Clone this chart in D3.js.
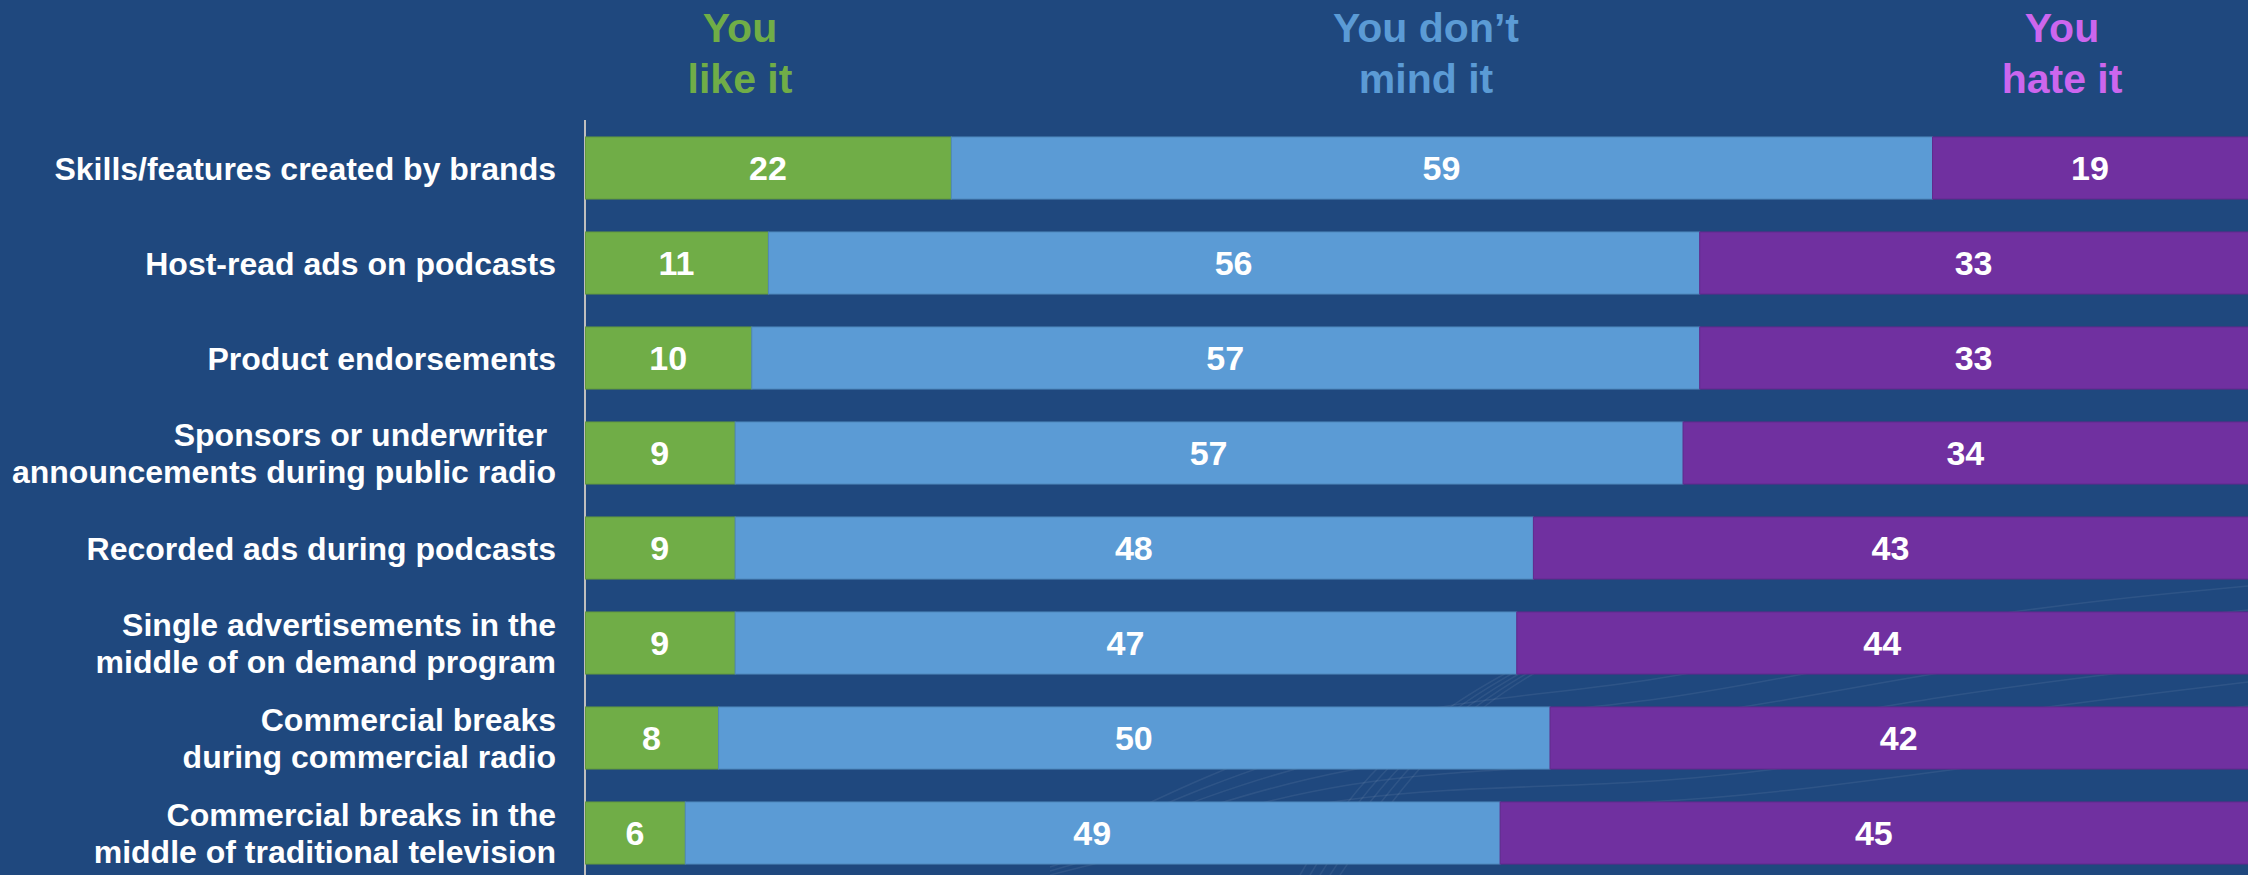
<!DOCTYPE html>
<html>
<head>
<meta charset="utf-8">
<script src="https://cdn.jsdelivr.net/npm/d3@7"></script>
<style>
  html, body { margin: 0; padding: 0; background: #1F487E; overflow: hidden; }
</style>
</head>
<body>
<div id="chart"></div>
<script>
const categories = [
  "Skills/features created by brands",
  "Host-read ads on podcasts",
  "Product endorsements",
  "Sponsors or underwriter \nannouncements during public radio",
  "Recorded ads during podcasts",
  "Single advertisements in the\nmiddle of on demand program",
  "Commercial breaks\nduring commercial radio",
  "Commercial breaks in the\nmiddle of traditional television"
]
const likeIt = [22, 11, 10, 9, 9, 9, 8, 6]
const dontMindIt = [59, 56, 57, 57, 48, 47, 50, 49]
const hateIt = [19, 33, 33, 34, 43, 44, 42, 45]
const seriesNames = ["You\nlike it", "You don’t\nmind it", "You\nhate it"]

const width = 2248
const height = 875
const marginLeft = 585
const font = "'Liberation Sans', Arimo, Arial, Helvetica, sans-serif"
const colors = ["#70AD47", "#5B9BD5", "#7030A0"]
const headColors = ["#70AD47", "#5B9BD5", "#CC66EE"]

const table = categories.map((c, i) => ({ cat: c, like: likeIt[i], mind: dontMindIt[i], hate: hateIt[i] }))
const keys = ["like", "mind", "hate"]
const stacked = d3.stack().keys(keys)(table)

const x = d3.scaleLinear().domain([0, 100]).range([marginLeft, width])
const y = d3.scaleBand()
    .domain(categories)
    .range([120.5, 880.5])
    .paddingInner(0.347)
    .paddingOuter(0.1735)

const svg = d3.select("#chart").append("svg")
    .attr("width", width)
    .attr("height", height)
    .attr("viewBox", [0, 0, width, height])
    .style("display", "block")
    .style("font-family", font)

svg.append("rect").attr("width", width).attr("height", height).attr("fill", "#1F487E")

// faint swirl decoration, bottom right
const deco = svg.append("g").attr("fill", "none").attr("stroke", "#ffffff").attr("stroke-opacity", 0.07).attr("stroke-width", 1.5)
const waveLine = d3.line().curve(d3.curveBasis)
for (let k = 0; k < 7; k++) {
  deco.append("path").attr("d", waveLine([
    [1050, 875 - k * 4], [1350, 800 - k * 16], [1650, 810 - k * 20], [1950, 770 - k * 26], [2248, 730 - k * 24]
  ]))
}
for (let k = 0; k < 5; k++) {
  deco.append("path").attr("d", waveLine([
    [1300 + k * 10, 875], [1350 + k * 12, 790], [1450 + k * 8, 700], [1570 + k * 6, 640]
  ]))
}

// axis line
svg.append("line")
    .attr("x1", marginLeft).attr("x2", marginLeft)
    .attr("y1", 120).attr("y2", height)
    .attr("stroke", "#BFBFBF").attr("stroke-width", 2)

// bars
const layer = svg.append("g").selectAll("g")
    .data(stacked)
    .join("g")
    .attr("fill", (d, i) => colors[i])
    .attr("stroke", (d, i) => d3.color(colors[i]).darker(0.35))
    .attr("stroke-width", 1)

layer.selectAll("rect")
    .data(d => d)
    .join("rect")
    .attr("x", d => x(d[0]) + 0.5)
    .attr("y", d => y(d.data.cat))
    .attr("width", d => x(d[1]) - x(d[0]))
    .attr("height", y.bandwidth())

// value labels
layer.selectAll("text")
    .data(d => d.map(v => ({ v, key: d.key })))
    .join("text")
    .attr("stroke", "none")
    .attr("fill", "#ffffff")
    .attr("font-family", font)
    .attr("font-size", 34)
    .attr("font-weight", "bold")
    .attr("text-anchor", "middle")
    .attr("x", d => (x(d.v[0]) + x(d.v[1])) / 2)
    .attr("y", d => y(d.v.data.cat) + y.bandwidth() / 2 + 12)
    .text(d => d.v.data[d.key])

// category labels
svg.append("g").selectAll("text")
    .data(categories)
    .join("text")
    .attr("fill", "#ffffff")
    .attr("font-family", font)
    .attr("font-size", 32)
    .attr("font-weight", "bold")
    .attr("text-anchor", "end")
    .each(function (c) {
      const lines = c.split("\n")
      const mid = y(c) + y.bandwidth() / 2
      const t = d3.select(this)
      lines.forEach((ln, j) => {
        t.append("tspan")
          .attr("x", 556)
          .attr("y", mid + 11.5 + (j - (lines.length - 1) / 2) * 37)
          .text(ln)
      })
    })

// series headers
const headX = [740, 1426, 2062]
svg.append("g").selectAll("text")
    .data(seriesNames)
    .join("text")
    .attr("fill", (d, i) => headColors[i])
    .attr("font-family", font)
    .attr("font-size", 41)
    .attr("font-weight", "bold")
    .attr("text-anchor", "middle")
    .each(function (s, i) {
      const t = d3.select(this)
      s.split("\n").forEach((ln, j) => {
        t.append("tspan").attr("x", headX[i]).attr("y", 42 + j * 51).text(ln)
      })
    })
</script>
</body>
</html>
